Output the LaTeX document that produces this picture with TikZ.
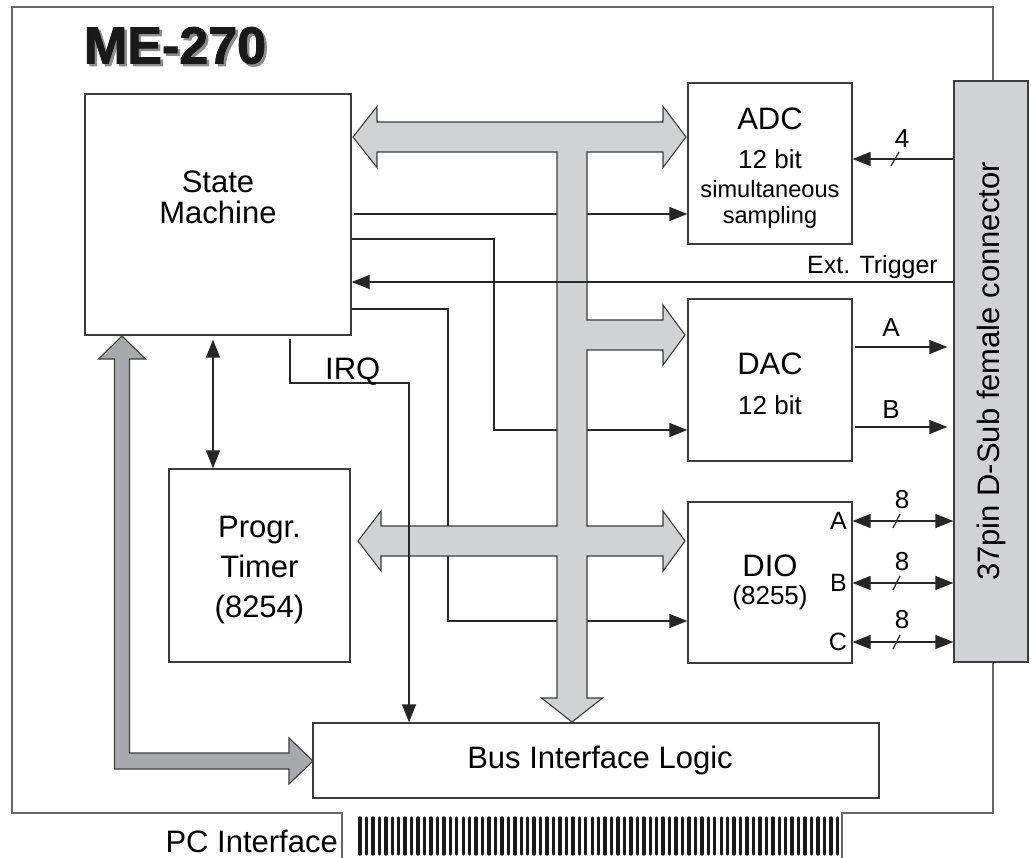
\documentclass[tikz,border=0pt]{standalone}
\usepackage{fontspec}
\setmainfont{Liberation Sans}
\newfontfamily\titlefont[FakeBold=1.8]{Liberation Sans Bold}
\usepackage{xcolor}
\usetikzlibrary{arrows.meta, positioning}
\definecolor{buslight}{RGB}{209,210,212}
\definecolor{busdark}{RGB}{167,169,172}
\definecolor{edge}{RGB}{60,60,60}
\newcommand{\fsz}[2]{\fontsize{#1}{#2}\selectfont}

\begin{document}
\begin{tikzpicture}[x=1pt, y=-1pt,
  blk/.style={draw=edge, line width=1.2pt, fill=white, align=center, inner sep=0pt},
  txt/.style={align=center, inner sep=0pt},
  sig/.style={-{Triangle[length=18pt,width=14pt]}, line width=1.2pt, black!85},
  bidir/.style={{Triangle[length=18pt,width=14pt]}-{Triangle[length=18pt,width=14pt]}, line width=1.2pt, black!85},
  wire/.style={line width=1.2pt, black!85},
  bus/.style={draw=edge, line width=1.1pt, line join=miter},
  lbl/.style={inner sep=0pt, font=\fsz{26}{26}},
  finger/.style={line width=3.4pt, line cap=round, black!90}
]
\useasboundingbox (0,0) rectangle (1031,858);

% board outline with the card edge
\draw[line width=1.2pt, black!60] (342,858) -- (342,813) -- (12,813) -- (12,7)
  -- (993,7) -- (993,813) -- (842,813) -- (842,858);
\foreach \i in {0,...,74}
  \draw[finger] (360+\i*6.45,818) -- ++(0,36);
\node[font=\fsz{31}{31}, anchor=base east, inner sep=0pt] (pcif) at (338,852) {PC Interface};

% title with its shadow
\node[font=\titlefont\fsz{52}{52}, text=black!45, inner sep=0pt] (ttlshadow) at (177.5,48) {ME-270};
\node[font=\titlefont\fsz{52}{52}, text=black!90, inner sep=0pt] (ttl) at (175,45.5) {ME-270};

% blocks
\node[blk, minimum width=266pt, minimum height=241pt] (sm) at (218,214.5) {};
\node[txt, font=\fsz{31}{31}] (smtext) at (218,197.5) {State\\Machine};
\node[blk, minimum width=181pt, minimum height=193pt] (timer) at (259.5,565.5) {};
\node[txt, font=\fsz{31}{40}] (timertext) at (259.5,570) {Progr.\\Timer\\(8254)};
\node[blk, minimum width=164pt, minimum height=161pt] (adc) at (770,163.5) {};
\node[txt, font=\fsz{23.6}{26}] (adctext) at (770,168)
  {\fsz{31}{31}ADC\\[13pt]\fsz{26}{26}12 bit\\[3pt]\fsz{23.6}{26}simultaneous\\\fsz{23.6}{26}sampling};
\node[blk, minimum width=164pt, minimum height=162pt] (dac) at (770,380) {};
\node[txt, font=\fsz{26}{31}] (dactext) at (770,383.5) {\fsz{31}{31}DAC\\[9pt]\fsz{26}{26}12 bit};
\node[blk, minimum width=164pt, minimum height=161pt, font=\fsz{26}{28}] (dio) at (770,582.5)
  {\fsz{31}{31}DIO\\\fsz{26}{26}(8255)};
\node[blk, minimum width=566pt, minimum height=75pt, font=\fsz{31}{31}] (bil) at (596,760.5)
  {\hspace*{8pt}Bus Interface Logic};
\node[blk, fill=buslight, minimum width=74pt, minimum height=581pt] (conn) at (991,371.5)
  {\rotatebox{90}{\fsz{31}{31}37pin D-Sub female connector}};

% control lines running under the bus
\draw[sig, shorten <=2pt] (sm.east |- 0,214) -- (adc.west |- 0,214);
\draw[sig] (sm.east |- 0,239) -| (494,430) -- (dac.west |- 0,430);
\draw[sig] (sm.east |- 0,309) -| (448,621) -- (dio.west |- 0,621);

% internal data bus
\draw[bus, fill=buslight] (353,137) -- (377,106.5) -- (377,122) -- (663,122) -- (663,106.5)
  -- (686,137) -- (663,167.5) -- (663,152) -- (587,152) -- (587,320) -- (663,320)
  -- (663,305) -- (685,335) -- (663,365) -- (663,350) -- (587,350) -- (587,526)
  -- (663,526) -- (663,511) -- (685,541) -- (663,571) -- (663,556) -- (587,556)
  -- (587,698) -- (602.5,698) -- (572,722) -- (541.5,698) -- (557,698) -- (557,556)
  -- (381,556) -- (381,571) -- (358,541) -- (381,511) -- (381,526) -- (557,526)
  -- (557,152) -- (377,152) -- (377,167.5) -- cycle;

% PC bus to the state machine
\draw[bus, fill=busdark] (122,336) -- (145.5,359) -- (129.5,359) -- (129.5,753) -- (289,753)
  -- (289,738) -- (313,761) -- (289,784) -- (289,769) -- (114.5,769) -- (114.5,359)
  -- (98.5,359) -- cycle;

% lines drawn over the bus
\draw[sig] (conn.west |- 0,282) -- (sm.east |- 0,282);
\node[font=\fsz{25}{25}, anchor=base east, inner sep=0pt] (exttrig) at (938,274) {Ext. Trigger};
\draw[sig, shorten <=3pt] (sm.south -| 290,0) -- (290,383) -| (bil.north -| 409,0);
\node[font=\fsz{31}{31}, anchor=base west, inner sep=0pt] (irq) at (325,380) {IRQ};
\draw[bidir, shorten <=4pt] (sm.south -| 213,0) -- (timer.north -| 213,0);

% analog inputs
\draw[sig] (conn.west |- 0,159) -- (adc.east |- 0,159);
\draw[wire] (891,166) -- (899,152);
\node[lbl] (nadc) at (902,138.5) {4};

% analog outputs
\draw[sig, shorten <=2pt, shorten >=6pt] (dac.east |- 0,347) -- (conn.west |- 0,347);
\node[lbl] (daca) at (891,328) {A};
\draw[sig, shorten <=2pt, shorten >=6pt] (dac.east |- 0,427) -- (conn.west |- 0,427);
\node[lbl] (dacb) at (891,410) {B};

% digital ports
\foreach \p/\y/\n in {A/521/500, B/583/562, C/642/620} {
  \draw[bidir] (dio.east |- 0,\y) -- (conn.west |- 0,\y);
  \draw[wire] (893,\y+7) -- (900,\y-7);
  \node[lbl] (n\p) at (902,\n) {8};
  \node[lbl, font=\fsz{25}{25}, anchor=east] (port\p) at (847,\y) {\p};
}
\end{tikzpicture}
\end{document}
